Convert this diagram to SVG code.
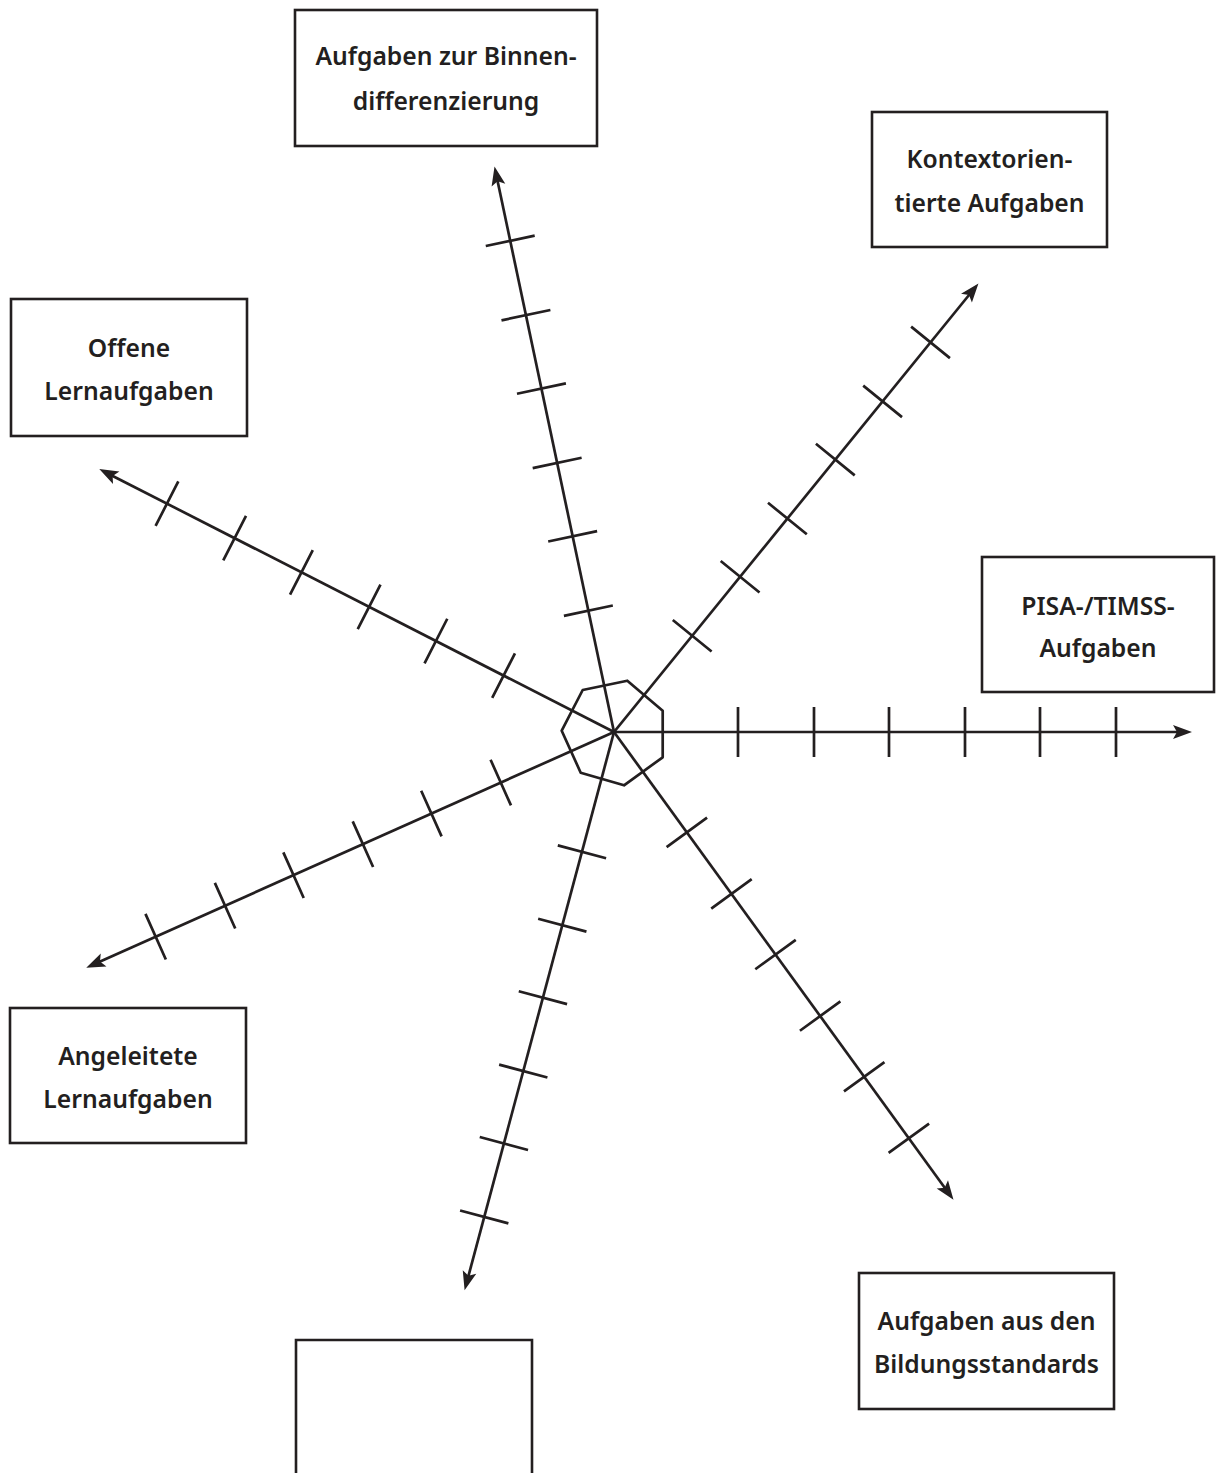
<svg xmlns="http://www.w3.org/2000/svg" width="1216" height="1473" viewBox="0 0 1216 1473">
<defs>
<style>
.box{fill:#fff;stroke:#231f20;stroke-width:2.6}
.lbl{font-family:"Noto Sans","DejaVu Sans",sans-serif;font-size:24.7px;font-weight:600;fill:#231f20;text-anchor:middle}
.ax{stroke:#231f20;stroke-width:2.7;fill:none}
.hept{stroke:#231f20;stroke-width:2.7;fill:none;stroke-linejoin:round}
</style>
<marker id="ah" markerUnits="userSpaceOnUse" viewBox="-8 -9 24 18" refX="0" refY="0" markerWidth="24" markerHeight="18" orient="auto">
<path d="M14,0 L-5,-7 L-1,0 L-5,7 Z" fill="#231f20"/>
</marker>
<g id="axis">
<line class="ax" x1="0" y1="0" x2="564" y2="0" marker-end="url(#ah)"/>
<path class="ax" d="M124,-25V25M200,-25V25M275,-25V25M351,-25V25M426,-25V25M502,-25V25"/>
</g>
</defs>
<rect width="1216" height="1473" fill="#fff"/>
<g id="connectors">
<use href="#axis" transform="translate(614,732) rotate(0)"/>
<use href="#axis" transform="translate(614,732) rotate(54.03)"/>
<use href="#axis" transform="translate(614,732) rotate(104.98)"/>
<use href="#axis" transform="translate(614,732) rotate(155.93)"/>
<use href="#axis" transform="translate(614,732) rotate(207.06)"/>
<use href="#axis" transform="translate(614,732) rotate(258.07)"/>
<use href="#axis" transform="translate(614,732) rotate(309.09)"/>
</g>
<g id="center">
<polygon class="hept" points="582.7,690 627.3,680.7 662.7,710.7 662.7,757.3 624,785.3 580.7,772.7 561.7,730.7"/>
</g>
<g id="n-binnen">
<rect class="box" x="295" y="10" width="302" height="136"/>
<text class="lbl" x="446" y="65">Aufgaben zur Binnen-</text>
<text class="lbl" x="446" y="110">differenzierung</text>
</g>
<g id="n-kontext">
<rect class="box" x="872" y="112" width="235" height="135"/>
<text class="lbl" x="989.5" y="168">Kontextorien-</text>
<text class="lbl" x="989.5" y="212">tierte Aufgaben</text>
</g>
<g id="n-offene">
<rect class="box" x="11" y="299" width="236" height="137"/>
<text class="lbl" x="129" y="357">Offene</text>
<text class="lbl" x="129" y="400">Lernaufgaben</text>
</g>
<g id="n-pisa">
<rect class="box" x="982" y="557" width="232" height="135"/>
<text class="lbl" x="1098" y="615">PISA-/TIMSS-</text>
<text class="lbl" x="1098" y="657">Aufgaben</text>
</g>
<g id="n-angeleitet">
<rect class="box" x="10" y="1008" width="236" height="135"/>
<text class="lbl" x="128" y="1065">Angeleitete</text>
<text class="lbl" x="128" y="1108">Lernaufgaben</text>
</g>
<g id="n-bildung">
<rect class="box" x="859" y="1273" width="255" height="136"/>
<text class="lbl" x="986.5" y="1330">Aufgaben aus den</text>
<text class="lbl" x="986.5" y="1373">Bildungsstandards</text>
</g>
<g id="n-empty">
<path class="box" d="M296,1480 V1340 H532 V1480"/>
</g>
</svg>
